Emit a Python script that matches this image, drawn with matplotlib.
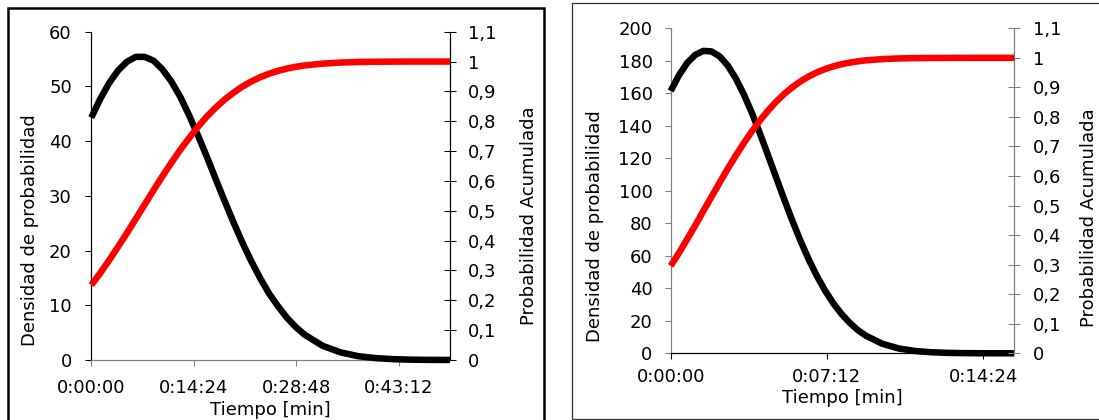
import matplotlib
matplotlib.use('Agg')
import matplotlib.pyplot as plt
from matplotlib.patches import Rectangle
from matplotlib.ticker import FixedLocator

plt.rcParams['font.family'] = ['DejaVu Sans']

# --- datos: panel izquierdo (tiempo en minutos) ---
t_izq = [0, 1.25, 2.5, 3.75, 5, 6.25, 7.5, 8.75, 10, 11.25, 12.5, 13.75, 15, 16.25,
         17.5, 18.75, 20, 21.25, 22.5, 23.75, 25, 26.25, 27.5, 28.75, 30, 32.5,
         35, 37.5, 40, 42.5, 45, 47.5, 50.4]
dens_izq = [44.3, 47.7, 50.6, 52.9, 54.5, 55.4, 55.4, 54.7, 53.1, 50.9, 48.1, 44.7,
            41.0, 37.1, 33.0, 29.0, 25.1, 21.4, 18.0, 14.9, 12.1, 9.8, 7.7, 6.0, 4.6,
            2.6, 1.4, 0.7, 0.34, 0.15, 0.06, 0.02, 0.01]
acum_izq = [0.251, 0.291, 0.334, 0.379, 0.425, 0.473, 0.521, 0.569, 0.616, 0.661,
            0.704, 0.744, 0.782, 0.816, 0.846, 0.873, 0.896, 0.9165, 0.9335, 0.9477,
            0.9594, 0.9689, 0.9765, 0.9824, 0.987, 0.993, 0.9966, 0.9984, 0.9993,
            0.9997, 0.9999, 1.0, 1.0]

# --- datos: panel derecho ---
t_der = [0, 0.375, 0.75, 1.125, 1.5, 1.875, 2.25, 2.625, 3, 3.375, 3.75, 4.125, 4.5,
         4.875, 5.25, 5.625, 6, 6.375, 6.75, 7.125, 7.5, 7.875, 8.25, 8.625, 9, 9.75,
         10.5, 11.25, 12, 12.75, 13.5, 14.25, 15, 15.84]
dens_der = [161.4, 171.0, 178.5, 183.6, 186.1, 185.8, 182.8, 177.2, 169.2, 159.2,
            147.7, 134.9, 121.4, 107.7, 94.1, 81.0, 68.7, 57.4, 47.3, 38.4, 30.7,
            24.2, 18.8, 14.3, 10.8, 5.9, 3.0, 1.45, 0.66, 0.28, 0.11, 0.04, 0.015, 0.005]
acum_der = [0.296, 0.339, 0.385, 0.432, 0.481, 0.529, 0.577, 0.624, 0.669, 0.712,
            0.752, 0.789, 0.8226, 0.8525, 0.8788, 0.9016, 0.9211, 0.9375, 0.9511,
            0.9623, 0.9712, 0.9784, 0.9839, 0.9882, 0.9915, 0.9957, 0.998, 0.9991,
            0.9996, 0.9998, 0.9999, 1.0, 1.0, 1.0]

xticks_izq = [0, 14.4, 28.8, 43.2]
xlabels_izq = ['0:00:00', '0:14:24', '0:28:48', '0:43:12']
xticks_der = [0, 7.2, 14.4]
xlabels_der = ['0:00:00', '0:07:12', '0:14:24']
yticks_acum = [0, 0.1, 0.2, 0.3, 0.4, 0.5, 0.6, 0.7, 0.8, 0.9, 1.0, 1.1]
ylabels_acum = ['0', '0,1', '0,2', '0,3', '0,4', '0,5', '0,6', '0,7', '0,8', '0,9', '1', '1,1']

GRIS = '#808080'
FS = 13
LW = 4.7


def panel(fig, rect, t, dens, acum, xmax, ymax, ystep, xticks, xlabels,
          col_izq, col_inf, col_der, pads):
    ax = fig.add_axes(rect)
    ax.plot(t, dens, color='black', lw=LW, solid_capstyle='butt',
            solid_joinstyle='round', clip_on=False, zorder=3)
    ax.set_xlim(0, xmax)
    ax.set_ylim(0, ymax)
    ax.set_yticks(range(0, ymax + 1, ystep))
    ax.xaxis.set_major_locator(FixedLocator(xticks))
    ax.set_xticklabels(xlabels)
    for s in ['top', 'right']:
        ax.spines[s].set_visible(False)
    ax.spines['left'].set_color(col_izq)
    ax.spines['bottom'].set_color(col_inf)
    ax.tick_params(axis='y', direction='out', length=4.2, width=0.75, color=col_izq,
                   labelsize=FS, pad=pads[0])
    ax.tick_params(axis='x', direction='out', length=4.2, width=0.75, color=col_inf,
                   labelsize=FS, pad=pads[1])

    ax2 = ax.twinx()
    ax2.plot(t, acum, color='#ff0000', lw=LW, solid_capstyle='butt',
             solid_joinstyle='round', clip_on=False, zorder=3)
    ax2.set_ylim(0, 1.1)
    ax2.set_yticks(yticks_acum)
    ax2.set_yticklabels(ylabels_acum)
    for s in ['top', 'left', 'bottom']:
        ax2.spines[s].set_visible(False)
    ax2.spines['right'].set_color(col_der)
    ax2.tick_params(axis='y', direction='inout', length=8.4, width=0.75, color=col_der,
                    labelsize=FS, pad=pads[2])
    for a in (ax, ax2):
        for sp in a.spines.values():
            sp.set_linewidth(0.9)
    return ax


def main():
    fig = plt.figure(figsize=(10.99, 4.2), dpi=100)

    # marcos de cada grafico
    fig.add_artist(Rectangle((7.7 / 1099, -0.05), (544.2 - 7.7) / 1099, 1 - 7.7 / 420 + 0.05,
                             transform=fig.transFigure, fill=False, ec='black', lw=1.8))
    fig.add_artist(Rectangle((571.7 / 1099, 1 - 418.7 / 420), 0.5, (418.7 - 3.3) / 420,
                             transform=fig.transFigure, fill=False, ec='#303030', lw=0.9))

    panel(fig, [91.3 / 1099, 60 / 420, 358.7 / 1099, 328.3 / 420],
          t_izq, dens_izq, acum_izq, 50.4, 60, 10, xticks_izq, xlabels_izq,
          'black', GRIS, 'black', (9.8, 9.4, 8.9))
    panel(fig, [670.7 / 1099, 66.7 / 420, 343.6 / 1099, 325 / 420],
          t_der, dens_der, acum_der, 15.84, 200, 20, xticks_der, xlabels_der,
          GRIS, 'black', GRIS, (8.9, 6.5, 9.0))

    # titulos de ejes
    fig.text(30 / 1099, 1 - 230.6 / 420, 'Densidad de probabilidad', rotation=90,
             ha='center', va='center', fontsize=FS)
    fig.text(529 / 1099, 1 - 216 / 420, 'Probabilidad Acumulada', rotation=90,
             ha='center', va='center', fontsize=FS)
    fig.text(270.7 / 1099, 5 / 420, 'Tiempo [min]', ha='center', va='baseline', fontsize=FS)
    fig.text(595 / 1099, 1 - 226 / 420, 'Densidad de probabilidad', rotation=90,
             ha='center', va='center', fontsize=FS)
    fig.text(1089.5 / 1099, 1 - 218 / 420, 'Probabilidad Acumulada', rotation=90,
             ha='center', va='center', fontsize=FS)
    fig.text(842.5 / 1099, 17 / 420, 'Tiempo [min]', ha='center', va='baseline', fontsize=FS)

    fig.savefig('out.png', dpi=100)
    plt.close(fig)


if __name__ == '__main__':
    main()
